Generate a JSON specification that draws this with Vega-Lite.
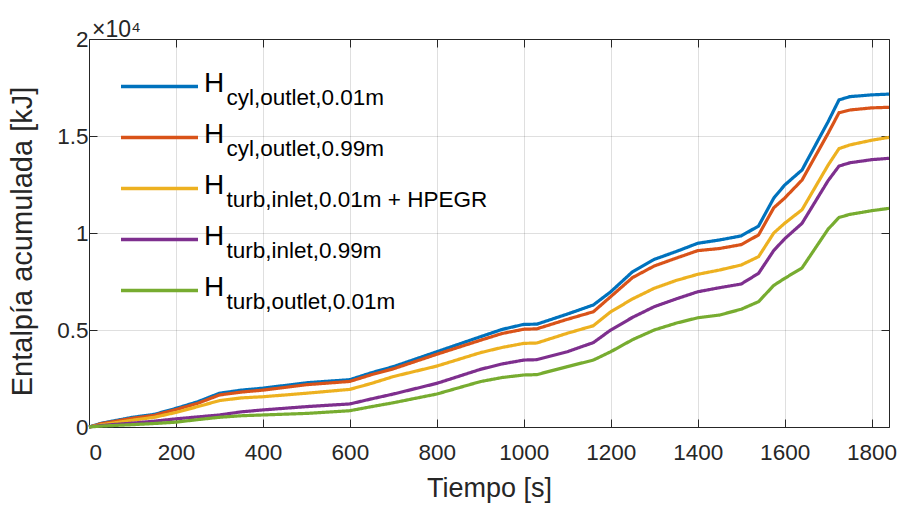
{
  "$schema": "https://vega.github.io/schema/vega-lite/v6.json",
  "width": 800,
  "height": 388,
  "autosize": {"type": "none"},
  "padding": {"left": 89, "top": 39, "right": 14, "bottom": 83},
  "config": {
    "font": "Liberation Sans",
    "view": {"stroke": null},
    "axis": {"domainColor": "#262626", "tickColor": "#262626", "labelColor": "#262626", "titleColor": "#262626", "labelFontSize": 22.5, "titleFontSize": 27, "titleFontWeight": "normal", "tickSize": -8, "gridColor": "#262626", "gridOpacity": 0.15}
  },
  "title": {"text": "×10⁴", "anchor": "start", "frame": "group", "fontSize": 23, "fontWeight": "normal", "color": "#262626", "offset": 6, "dx": 3, "dy": 20},
  "datasets": {
    "names": [
      {"s": "A", "sub": "cyl,outlet,0.01m"},
      {"s": "B", "sub": "cyl,outlet,0.99m"},
      {"s": "C", "sub": "turb,inlet,0.01m + HPEGR"},
      {"s": "D", "sub": "turb,inlet,0.99m"},
      {"s": "E", "sub": "turb,outlet,0.01m"}
    ]
  },
  "data": {"values": [
    {"s":"A","t":0,"v":0},{"s":"A","t":30,"v":200},{"s":"A","t":100,"v":500},{"s":"A","t":150,"v":650},{"s":"A","t":200,"v":960},{"s":"A","t":250,"v":1300},{"s":"A","t":300,"v":1740},{"s":"A","t":350,"v":1900},{"s":"A","t":400,"v":2000},{"s":"A","t":500,"v":2280},{"s":"A","t":600,"v":2440},{"s":"A","t":650,"v":2800},{"s":"A","t":700,"v":3110},{"s":"A","t":800,"v":3880},{"s":"A","t":900,"v":4650},{"s":"A","t":950,"v":5030},{"s":"A","t":1000,"v":5290},{"s":"A","t":1030,"v":5300},{"s":"A","t":1100,"v":5820},{"s":"A","t":1160,"v":6290},{"s":"A","t":1200,"v":6970},{"s":"A","t":1250,"v":8000},{"s":"A","t":1300,"v":8640},{"s":"A","t":1350,"v":9040},{"s":"A","t":1400,"v":9470},{"s":"A","t":1450,"v":9640},{"s":"A","t":1500,"v":9850},{"s":"A","t":1540,"v":10360},{"s":"A","t":1575,"v":11800},{"s":"A","t":1600,"v":12470},{"s":"A","t":1640,"v":13250},{"s":"A","t":1700,"v":15740},{"s":"A","t":1725,"v":16860},{"s":"A","t":1750,"v":17030},{"s":"A","t":1800,"v":17120},{"s":"A","t":1840,"v":17160},
    {"s":"B","t":0,"v":0},{"s":"B","t":30,"v":180},{"s":"B","t":100,"v":450},{"s":"B","t":150,"v":600},{"s":"B","t":200,"v":900},{"s":"B","t":250,"v":1220},{"s":"B","t":300,"v":1650},{"s":"B","t":350,"v":1800},{"s":"B","t":400,"v":1900},{"s":"B","t":500,"v":2180},{"s":"B","t":600,"v":2350},{"s":"B","t":650,"v":2700},{"s":"B","t":700,"v":3000},{"s":"B","t":800,"v":3750},{"s":"B","t":900,"v":4470},{"s":"B","t":950,"v":4820},{"s":"B","t":1000,"v":5040},{"s":"B","t":1030,"v":5060},{"s":"B","t":1100,"v":5550},{"s":"B","t":1160,"v":5940},{"s":"B","t":1200,"v":6720},{"s":"B","t":1250,"v":7700},{"s":"B","t":1300,"v":8300},{"s":"B","t":1350,"v":8700},{"s":"B","t":1400,"v":9090},{"s":"B","t":1450,"v":9200},{"s":"B","t":1500,"v":9400},{"s":"B","t":1540,"v":9900},{"s":"B","t":1575,"v":11300},{"s":"B","t":1600,"v":11800},{"s":"B","t":1640,"v":12730},{"s":"B","t":1700,"v":15140},{"s":"B","t":1725,"v":16200},{"s":"B","t":1750,"v":16340},{"s":"B","t":1800,"v":16450},{"s":"B","t":1840,"v":16480},
    {"s":"C","t":0,"v":0},{"s":"C","t":30,"v":120},{"s":"C","t":100,"v":350},{"s":"C","t":150,"v":500},{"s":"C","t":200,"v":750},{"s":"C","t":250,"v":1050},{"s":"C","t":300,"v":1360},{"s":"C","t":350,"v":1500},{"s":"C","t":400,"v":1560},{"s":"C","t":500,"v":1740},{"s":"C","t":600,"v":1940},{"s":"C","t":650,"v":2250},{"s":"C","t":700,"v":2600},{"s":"C","t":800,"v":3140},{"s":"C","t":900,"v":3830},{"s":"C","t":950,"v":4100},{"s":"C","t":1000,"v":4310},{"s":"C","t":1030,"v":4330},{"s":"C","t":1100,"v":4830},{"s":"C","t":1160,"v":5220},{"s":"C","t":1200,"v":5940},{"s":"C","t":1250,"v":6600},{"s":"C","t":1300,"v":7150},{"s":"C","t":1350,"v":7550},{"s":"C","t":1400,"v":7870},{"s":"C","t":1450,"v":8090},{"s":"C","t":1500,"v":8350},{"s":"C","t":1540,"v":8780},{"s":"C","t":1575,"v":10000},{"s":"C","t":1600,"v":10500},{"s":"C","t":1640,"v":11200},{"s":"C","t":1700,"v":13500},{"s":"C","t":1725,"v":14350},{"s":"C","t":1750,"v":14540},{"s":"C","t":1800,"v":14780},{"s":"C","t":1840,"v":14930},
    {"s":"D","t":0,"v":0},{"s":"D","t":30,"v":80},{"s":"D","t":100,"v":200},{"s":"D","t":150,"v":300},{"s":"D","t":200,"v":420},{"s":"D","t":250,"v":520},{"s":"D","t":300,"v":620},{"s":"D","t":350,"v":780},{"s":"D","t":400,"v":880},{"s":"D","t":500,"v":1050},{"s":"D","t":600,"v":1190},{"s":"D","t":650,"v":1450},{"s":"D","t":700,"v":1700},{"s":"D","t":800,"v":2250},{"s":"D","t":900,"v":2970},{"s":"D","t":950,"v":3250},{"s":"D","t":1000,"v":3450},{"s":"D","t":1030,"v":3470},{"s":"D","t":1100,"v":3880},{"s":"D","t":1160,"v":4350},{"s":"D","t":1200,"v":5000},{"s":"D","t":1250,"v":5650},{"s":"D","t":1300,"v":6200},{"s":"D","t":1350,"v":6600},{"s":"D","t":1400,"v":6970},{"s":"D","t":1450,"v":7180},{"s":"D","t":1500,"v":7370},{"s":"D","t":1540,"v":7920},{"s":"D","t":1575,"v":9100},{"s":"D","t":1600,"v":9700},{"s":"D","t":1640,"v":10500},{"s":"D","t":1700,"v":12700},{"s":"D","t":1725,"v":13450},{"s":"D","t":1750,"v":13620},{"s":"D","t":1800,"v":13780},{"s":"D","t":1840,"v":13850},
    {"s":"E","t":0,"v":0},{"s":"E","t":30,"v":50},{"s":"E","t":100,"v":120},{"s":"E","t":150,"v":180},{"s":"E","t":200,"v":250},{"s":"E","t":250,"v":380},{"s":"E","t":300,"v":500},{"s":"E","t":350,"v":580},{"s":"E","t":400,"v":620},{"s":"E","t":500,"v":700},{"s":"E","t":600,"v":840},{"s":"E","t":650,"v":1050},{"s":"E","t":700,"v":1250},{"s":"E","t":800,"v":1700},{"s":"E","t":900,"v":2340},{"s":"E","t":950,"v":2550},{"s":"E","t":1000,"v":2680},{"s":"E","t":1030,"v":2700},{"s":"E","t":1100,"v":3110},{"s":"E","t":1160,"v":3450},{"s":"E","t":1200,"v":3880},{"s":"E","t":1250,"v":4500},{"s":"E","t":1300,"v":5000},{"s":"E","t":1350,"v":5350},{"s":"E","t":1400,"v":5630},{"s":"E","t":1450,"v":5770},{"s":"E","t":1500,"v":6070},{"s":"E","t":1540,"v":6460},{"s":"E","t":1575,"v":7300},{"s":"E","t":1600,"v":7660},{"s":"E","t":1640,"v":8200},{"s":"E","t":1700,"v":10200},{"s":"E","t":1725,"v":10800},{"s":"E","t":1750,"v":10960},{"s":"E","t":1800,"v":11150},{"s":"E","t":1840,"v":11270}
  ]},
  "transform": [
    {"lookup": "s", "from": {"data": {"name": "names"}, "key": "s", "fields": ["sub"]}}
  ],
  "layer": [
    {
      "mark": {"type": "line", "strokeWidth": 3.2},
      "encoding": {
        "x": {"field": "t", "type": "quantitative", "scale": {"domain": [0, 1840], "nice": false, "zero": false},
          "axis": {"orient": "bottom", "values": [0,200,400,600,800,1000,1200,1400,1600,1800], "format": "d", "title": "Tiempo [s]", "grid": true, "labelPadding": 22, "titlePadding": 12}},
        "y": {"field": "v", "type": "quantitative", "scale": {"domain": [0, 20000], "nice": false},
          "axis": {"orient": "left", "values": [0,5000,10000,15000,20000], "labelExpr": "datum.value/10000", "title": "Entalpía acumulada [kJ]", "titleFontSize": 29, "titleY": 202, "grid": true, "labelPadding": 9, "titlePadding": 19}},
        "color": {"field": "s", "type": "nominal",
          "scale": {"domain": ["A","B","C","D","E"], "range": ["#0072BD","#D95319","#EDB120","#7E2F8E","#77AC30"]},
          "legend": {"orient": "none", "legendX": 30, "legendY": 22, "title": null, "labelExpr": "'H'", "labelFontSize": 28, "labelColor": "#000000", "labelOffset": 4, "symbolType": "stroke", "symbolSize": 5929, "symbolStrokeWidth": 3.5, "clipHeight": 51, "rowPadding": 0, "padding": 0,
            "encode": {"labels": {"update": {"dy": {"value": -3}}}}}},
        "strokeDash": {"field": "sub", "type": "nominal",
          "scale": {"domain": ["cyl,outlet,0.01m","cyl,outlet,0.99m","turb,inlet,0.01m + HPEGR","turb,inlet,0.99m","turb,outlet,0.01m"], "range": [[1,0],[1,0],[1,0],[1,0],[1,0]]},
          "legend": {"orient": "none", "legendX": 115, "legendY": 33, "title": null, "labelFontSize": 22.5, "labelColor": "#000000", "labelOffset": 0, "labelLimit": 500, "symbolSize": 0, "symbolOpacity": 0, "symbolStrokeWidth": 0, "clipHeight": 51, "rowPadding": 0, "padding": 0}}
      }
    },
    {
      "mark": {"type": "line", "opacity": 0},
      "encoding": {
        "x": {"field": "t", "type": "quantitative", "scale": {"domain": [0, 1840], "nice": false, "zero": false},
          "axis": {"orient": "top", "values": [0,200,400,600,800,1000,1200,1400,1600,1800], "labels": false, "title": null, "grid": false}},
        "y": {"field": "v", "type": "quantitative", "scale": {"domain": [0, 20000], "nice": false},
          "axis": {"orient": "right", "values": [0,5000,10000,15000,20000], "labels": false, "title": null, "grid": false}},
        "detail": {"field": "s"}
      }
    }
  ],
  "resolve": {"scale": {"x": "independent", "y": "independent"}}
}
